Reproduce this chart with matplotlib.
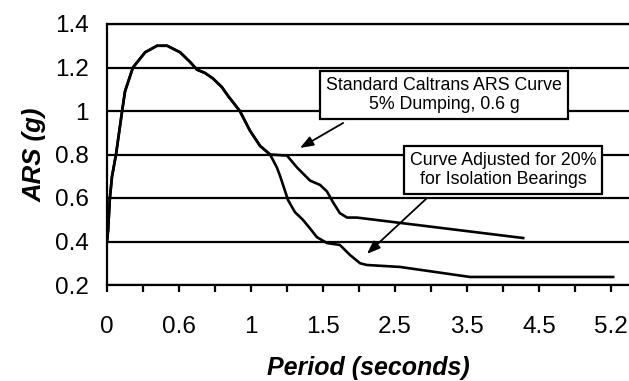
"""ARS spectrum: standard Caltrans curve vs curve adjusted for isolation bearings."""

import matplotlib.pyplot as plt

plt.rcParams["font.family"] = ["Liberation Sans", "DejaVu Sans"]

# x is in category-axis units: one unit per tick, labels on every other tick
tick_labels = ["0", "0.6", "1", "1.5", "2.5", "3.5", "4.5", "5.2"]
y_ticks = [0.2, 0.4, 0.6, 0.8, 1.0, 1.2, 1.4]
y_tick_labels = ["0.2", "0.4", "0.6", "0.8", "1", "1.2", "1.4"]

# part shared by both curves
common_x = [0.0, 0.03, 0.08, 0.14, 0.25, 0.42, 0.5, 0.72, 1.06, 1.39, 1.67,
            2.03, 2.31, 2.5, 2.72, 2.94, 3.19, 3.36, 3.69, 3.97, 4.25, 4.53]
common_y = [0.40, 0.45, 0.60, 0.70, 0.80, 1.0, 1.09, 1.20, 1.27, 1.30, 1.30,
            1.27, 1.225, 1.19, 1.175, 1.15, 1.11, 1.07, 1.0, 0.91, 0.84, 0.80]

std_tail_x = [5.0, 5.28, 5.64, 5.92, 6.11, 6.28, 6.47, 6.67, 6.94, 11.56]
std_tail_y = [0.795, 0.74, 0.68, 0.66, 0.63, 0.58, 0.53, 0.51, 0.51, 0.416]

adj_tail_x = [4.72, 4.81, 5.03, 5.22, 5.44, 5.64, 5.83, 6.11, 6.47, 6.75,
              7.03, 7.22, 8.14, 10.08, 14.06]
adj_tail_y = [0.74, 0.70, 0.59, 0.535, 0.50, 0.46, 0.42, 0.393, 0.384, 0.338,
              0.30, 0.292, 0.283, 0.237, 0.237]

std_x = common_x + std_tail_x
std_y = common_y + std_tail_y
adj_x = common_x + adj_tail_x
adj_y = common_y + adj_tail_y

fig = plt.figure(figsize=(6.29, 3.81), dpi=100)
ax = fig.add_axes([107 / 629, 96 / 381, 522 / 629, 261 / 381])

ax.plot(std_x, std_y, color="black", lw=1.9, solid_joinstyle="round")
ax.plot(adj_x, adj_y, color="black", lw=1.9, solid_joinstyle="round")

ax.set_xlim(0, 14.5)
ax.set_ylim(0.2, 1.4)

ax.set_yticks(y_ticks)
ax.set_yticklabels(y_tick_labels)
ax.grid(axis="y", color="black", lw=1.6)
ax.set_axisbelow(True)

ax.set_xticks(range(0, 15, 2))
ax.set_xticklabels(tick_labels)
ax.set_xticks(range(1, 15, 2), minor=True)
ax.tick_params(axis="x", which="both", direction="out", length=5, width=1.6,
               pad=17, labelsize=17.5)
ax.tick_params(axis="y", length=0, pad=13, labelsize=17.5)

for side in ["left", "bottom", "top"]:
    ax.spines[side].set_linewidth(1.6)
ax.spines["right"].set_visible(False)

ax.set_ylabel("ARS (g)", fontsize=18.5, fontweight="bold", style="italic",
              labelpad=6)
ax.set_xlabel("Period (seconds)", fontsize=18, fontweight="bold",
              style="italic", labelpad=13)

box = dict(boxstyle="square,pad=0.35", facecolor="white", edgecolor="black",
           lw=1.6)
ax.text(9.36, 1.074, "Standard Caltrans ARS Curve\n5% Dumping, 0.6 g",
        ha="center", va="center", fontsize=12.8, bbox=box, linespacing=1.15)
ax.text(11.0, 0.729, "Curve Adjusted for 20%\nfor Isolation Bearings",
        ha="center", va="center", fontsize=12.8, bbox=box, linespacing=1.15)

arrow = dict(arrowstyle="-|>,head_length=0.8,head_width=0.3", color="black",
             lw=1.3, shrinkA=0, shrinkB=0)
ax.annotate("", xy=(5.36, 0.83), xytext=(6.56, 0.945), arrowprops=arrow)
ax.annotate("", xy=(7.22, 0.343), xytext=(8.89, 0.60), arrowprops=arrow)

fig.savefig("out.png", dpi=100)
